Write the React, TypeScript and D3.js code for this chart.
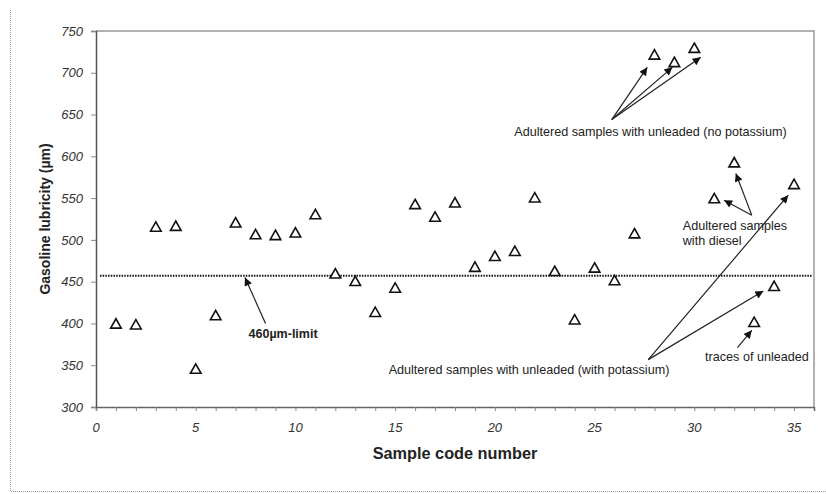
import React, { useRef, useEffect } from "react";
import * as d3 from "d3";

// sample code numbers and measured lubricity (µm)
const sampleCodes = [
  1, 2, 3, 4, 5, 6, 7, 8, 9, 10, 11, 12, 13, 14, 15, 16, 17, 18,
  19, 20, 21, 22, 23, 24, 25, 26, 27, 28, 29, 30, 31, 32, 33, 34, 35,
];
const lubricity = [
  400, 399, 516, 517, 346, 410, 521, 507, 506, 509, 531, 460, 451, 414, 443, 543, 528, 545,
  468, 481, 487, 551, 463, 405, 467, 452, 508, 722, 713, 730, 550, 593, 402, 445, 567,
];
const xTicks = [0, 5, 10, 15, 20, 25, 30, 35];
const yTicks = [300, 350, 400, 450, 500, 550, 600, 650, 700, 750];
const limitValue = 457;

const FONT = "'Liberation Sans', Arial, sans-serif";

const App = () => {
  const svgRef = useRef<SVGSVGElement>(null);

  useEffect(() => {
    document.body.style.margin = "0";
    const width = 826;
    const height = 494;
    const margin = { top: 31, right: 12, bottom: 87, left: 96 };

    const svg = d3.select(svgRef.current);
    svg.selectAll("*").remove();

    const x = d3.scaleLinear().domain([0, 36]).range([margin.left, width - margin.right]);
    const y = d3.scaleLinear().domain([300, 750]).range([height - margin.bottom, margin.top]);

    // outer dotted frame (left + bottom only)
    svg
      .append("path")
      .attr("d", `M10.5,10 V491.5 H826`)
      .attr("fill", "none")
      .attr("stroke", "#999")
      .attr("stroke-dasharray", "1,1");

    svg
      .append("defs")
      .append("marker")
      .attr("id", "arrow")
      .attr("viewBox", "0 0 10 10")
      .attr("refX", 10)
      .attr("refY", 5)
      .attr("markerWidth", 11)
      .attr("markerHeight", 8)
      .attr("markerUnits", "userSpaceOnUse")
      .attr("orient", "auto")
      .append("path")
      .attr("d", "M0,0 L10,5 L0,10 Z")
      .attr("fill", "#111");

    // plot frame
    svg
      .append("path")
      .attr("d", `M${x(0)},${y(750)} H${x(36)} V${y(300)}`)
      .attr("fill", "none")
      .attr("stroke", "#999")
      .attr("stroke-width", 1.5);

    // x axis
    const xAxis = svg
      .append("g")
      .attr("transform", `translate(0,${y(300)})`)
      .call(
        d3
          .axisBottom(x)
          .tickValues(d3.range(0, 36))
          .tickSize(4)
          .tickFormat(() => "")
      );
    xAxis.select(".domain").attr("stroke", "#666").attr("stroke-width", 1.5);
    xAxis.selectAll(".tick line").attr("stroke", "#888");

    svg
      .append("g")
      .selectAll("text")
      .data(xTicks)
      .enter()
      .append("text")
      .attr("x", (d) => x(d))
      .attr("y", y(300) + 25)
      .attr("text-anchor", "middle")
      .style("font-family", FONT)
      .style("font-style", "italic")
      .style("font-size", "13px")
      .style("fill", "#333")
      .text((d) => d);

    // y axis
    const yAxis = svg
      .append("g")
      .attr("transform", `translate(${x(0)},0)`)
      .call(d3.axisLeft(y).tickValues(yTicks).tickSize(5).tickPadding(8));
    yAxis.select(".domain").attr("stroke", "#555").attr("stroke-width", 1.5);
    yAxis.selectAll(".tick line").attr("stroke", "#888");
    yAxis
      .selectAll("text")
      .style("font-family", FONT)
      .style("font-style", "italic")
      .style("font-size", "13px")
      .style("fill", "#333");

    // axis titles
    svg
      .append("text")
      .attr("transform", `translate(50,${(y(300) + y(750)) / 2}) rotate(-90)`)
      .attr("text-anchor", "middle")
      .style("font-family", FONT)
      .style("font-weight", "bold")
      .style("font-size", "14px")
      .style("fill", "#222")
      .text("Gasoline lubricity (µm)");

    svg
      .append("text")
      .attr("x", (x(0) + x(36)) / 2)
      .attr("y", 459)
      .attr("text-anchor", "middle")
      .style("font-family", FONT)
      .style("font-weight", "bold")
      .style("font-size", "16.3px")
      .style("fill", "#222")
      .text("Sample code number");

    // 460 µm limit line
    svg
      .append("line")
      .attr("x1", x(0.2))
      .attr("x2", x(35.9))
      .attr("y1", y(limitValue))
      .attr("y2", y(limitValue))
      .attr("stroke", "#111")
      .attr("stroke-width", 2)
      .attr("stroke-dasharray", "1.5,1.2");

    // data points
    const tri = "M0,-4.7 L5.3,4.7 L-5.3,4.7 Z";
    svg
      .append("g")
      .selectAll("path")
      .data(sampleCodes)
      .enter()
      .append("path")
      .attr("transform", (d, i) => `translate(${x(d)},${y(lubricity[i])})`)
      .attr("d", tri)
      .attr("fill", "#fff")
      .attr("stroke", "#111")
      .attr("stroke-width", 1.6);

    // annotations (data coordinates)
    const arrows = [
      [8.5, 400, 7.47, 455],
      [25.86, 644, 27.64, 706.5],
      [25.86, 644, 28.9, 706.5],
      [25.86, 644, 30.32, 718.5],
      [32.88, 529.6, 31.49, 547.5],
      [32.88, 529.6, 32.08, 579.5],
      [27.69, 356.7, 34.71, 553.5],
      [27.69, 356.7, 33.46, 438.9],
      [32.16, 371.1, 32.88, 391.8],
    ];
    svg
      .append("g")
      .selectAll("line")
      .data(arrows)
      .enter()
      .append("line")
      .attr("x1", (d) => x(d[0]))
      .attr("y1", (d) => y(d[1]))
      .attr("x2", (d) => x(d[2]))
      .attr("y2", (d) => y(d[3]))
      .attr("stroke", "#222")
      .attr("stroke-width", 1.2)
      .attr("marker-end", "url(#arrow)");

    // [x, y, text, bold, anchor]
    const notes: [number, number, string, boolean, string][] = [
      [9.38, 388, "460µm-limit", true, "middle"],
      [27.8, 629.4, "Adultered samples with unleaded (no potassium)", false, "middle"],
      [29.42, 516.8, "Adultered samples", false, "start"],
      [29.42, 498.8, "with diesel", false, "start"],
      [21.71, 344.7, "Adultered samples with unleaded (with potassium)", false, "middle"],
      [30.54, 360.6, "traces of unleaded", false, "start"],
    ];
    svg
      .append("g")
      .selectAll("text")
      .data(notes)
      .enter()
      .append("text")
      .attr("x", (d) => x(d[0]))
      .attr("y", (d) => y(d[1]))
      .attr("dy", "0.35em")
      .attr("text-anchor", (d) => d[4])
      .style("font-family", FONT)
      .style("font-size", (d) => (d[3] ? "12.5px" : "12.6px"))
      .style("font-weight", (d) => (d[3] ? "bold" : "normal"))
      .style("fill", "#222")
      .text((d) => d[2]);
  }, []);

  return <svg ref={svgRef} width={826} height={494} style={{ display: "block" }}></svg>;
};

export default App;
